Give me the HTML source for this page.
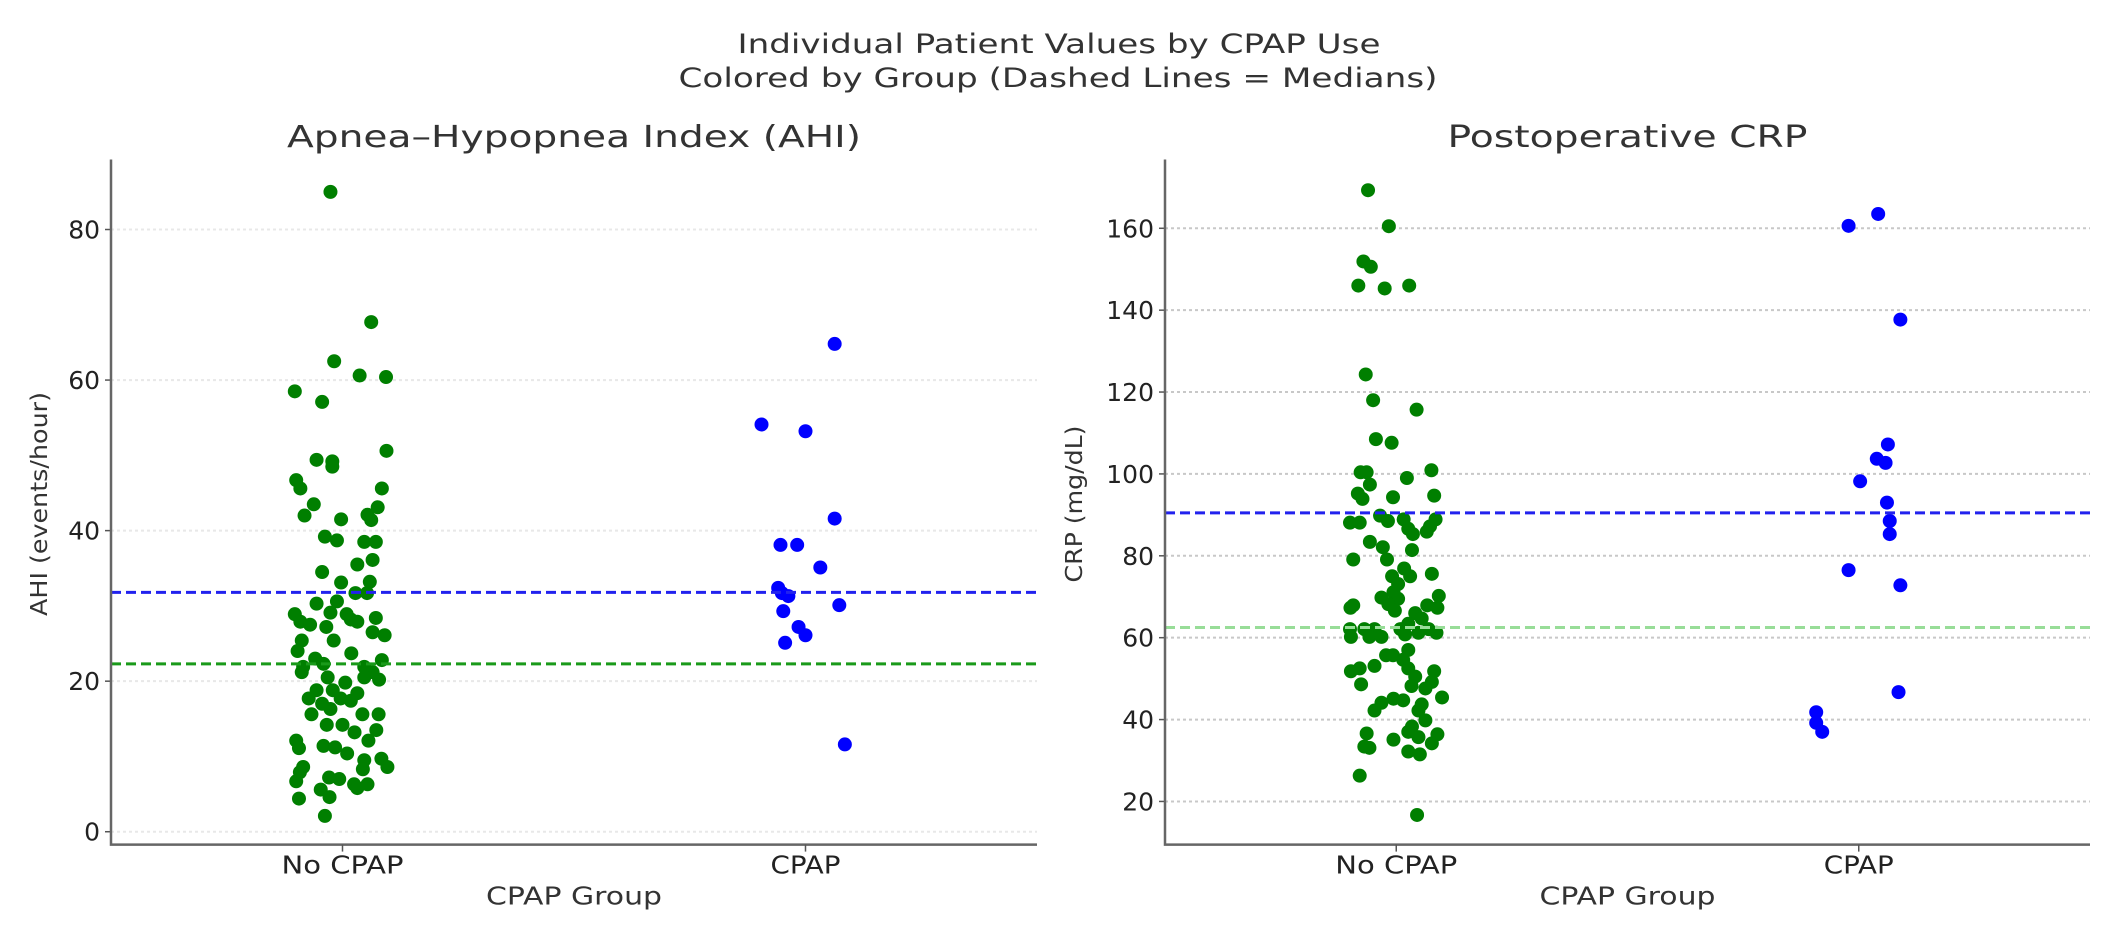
<!DOCTYPE html>
<html><head><meta charset="utf-8"><style>
html,body{margin:0;padding:0;background:#fff;}
svg{display:block;font-family:"DejaVu Sans","Liberation Sans",sans-serif;}
</style></head><body>
<svg id="chart" width="2117" height="926" viewBox="0 0 2117 926" xmlns="http://www.w3.org/2000/svg">
<rect width="2117" height="926" fill="#fff"/>
<text x="1059" y="53" text-anchor="middle" font-size="27" fill="#333" textLength="643" lengthAdjust="spacingAndGlyphs">Individual Patient Values by CPAP Use</text>
<text x="1058" y="87" text-anchor="middle" font-size="27" fill="#333" textLength="759" lengthAdjust="spacingAndGlyphs">Colored by Group (Dashed Lines = Medians)</text>
<g id="p1"></g>
<g id="p2"></g>
</svg>
<script>
const categories = ["No CPAP", "CPAP"];
// AHI panel data: [value, jitter]
const ahiNoCpap = [[85.0,-.026],[67.7,.062],[62.5,-.018],[60.6,.037],[60.4,.094],[58.5,-.103],[57.1,-.044],[50.6,.095],[49.4,-.056],[49.2,-.022],[48.5,-.022],[46.7,-.1],[45.6,-.091],[45.6,.085],[43.5,-.062],[43.1,.076],[42.0,-.082],[42.1,.054],[41.5,-.003],[41.4,.062],[39.2,-.038],[38.7,-.012],[38.5,.047],[38.5,.072],[35.5,.032],[36.1,.065],[34.5,-.044],[33.1,-.003],[33.2,.059],[31.7,.028],[31.7,.053],[30.6,-.012],[30.3,-.056],[28.9,-.103],[29.1,-.026],[28.9,.009],[28.4,.072],[27.9,-.091],[27.5,-.07],[28.2,.018],[27.2,-.035],[27.9,.032],[25.4,-.019],[25.4,-.088],[26.1,.091],[26.5,.065],[24.0,-.097],[23.7,.019],[23.0,-.059],[22.8,.085],[21.9,-.085],[22.3,-.041],[21.9,.047],[21.2,.065],[21.2,-.088],[20.5,-.032],[19.8,.006],[20.5,.047],[20.2,.079],[18.8,-.056],[18.8,-.021],[18.4,.032],[17.7,-.073],[17.7,-.004],[17.0,-.044],[17.4,.018],[15.6,-.067],[16.3,-.026],[15.6,.043],[15.6,.078],[14.2,-.034],[14.2,0],[13.5,.073],[13.2,.026],[12.1,-.1],[12.1,.056],[11.1,-.094],[11.4,-.041],[11.2,-.016],[10.4,.01],[9.5,.047],[9.7,.084],[8.6,-.085],[8.6,.097],[8.3,.044],[7.9,-.092],[7.2,-.029],[7.0,-.007],[6.7,-.1],[6.3,.025],[6.3,.054],[5.6,-.047],[5.8,.032],[4.4,-.094],[4.6,-.028],[2.1,-.038]];
const ahiCpap = [[54.1,-.095],[53.2,0],[64.8,.063],[41.6,.063],[38.1,-.054],[38.1,-.018],[35.1,.032],[32.4,-.059],[31.7,-.051],[31.3,-.037],[30.1,.073],[29.3,-.048],[27.2,-.015],[26.1,0],[25.1,-.044],[11.6,.085]];
const ahiMedians = [22.3, 31.8];
const ahiTicks = [0,20,40,60,80];
// CRP panel data
const crpNoCpap = [[169.3,-.061],[160.5,-.016],[151.9,-.071],[150.6,-.055],[146.0,-.082],[145.3,-.025],[146.0,.028],[124.3,-.066],[118.0,-.05],[115.7,.044],[108.5,-.044],[107.6,-.01],[100.4,-.077],[100.4,-.064],[100.9,.076],[99.0,.023],[97.4,-.057],[95.2,-.083],[93.9,-.073],[94.3,-.007],[94.7,.082],[89.8,-.035],[88.5,-.018],[88.1,-.1],[88.1,-.079],[88.9,.016],[88.9,.085],[87.2,.073],[86.6,.026],[85.9,.066],[85.3,.036],[83.4,-.057],[82.1,-.029],[81.4,.034],[79.1,-.093],[79.1,-.02],[76.9,.017],[75.6,.077],[75.0,-.009],[75.0,.03],[73.1,.004],[71.1,-.006],[69.5,.004],[70.2,.092],[69.8,-.032],[68.2,-.017],[67.9,-.093],[67.9,.067],[67.3,-.099],[67.3,.089],[66.6,-.003],[66.0,.041],[64.7,.055],[63.4,.026],[62.1,-.1],[62.1,-.069],[62.1,-.047],[62.1,.009],[62.1,.07],[60.2,-.098],[60.2,-.058],[60.2,-.032],[60.8,.019],[61.2,.048],[61.2,.087],[57.0,.026],[55.7,-.022],[55.7,-.007],[54.6,.015],[53.1,-.047],[52.5,.026],[51.8,-.098],[52.5,-.079],[51.8,.082],[50.5,.041],[49.2,.077],[48.6,-.076],[48.2,.033],[47.6,.063],[45.4,.099],[45.1,-.006],[44.7,.015],[44.1,-.032],[43.7,.055],[42.2,.048],[42.2,-.047],[39.8,.063],[38.3,.034],[37.0,.026],[35.7,.048],[36.4,.089],[36.6,-.064],[35.1,-.006],[34.2,.077],[33.1,-.058],[33.4,-.069],[32.2,.026],[31.5,.051],[26.3,-.079],[16.7,.045]];
const crpCpap = [[160.6,-.022],[163.5,.042],[137.7,.09],[107.2,.063],[103.7,.039],[102.7,.058],[98.2,.003],[93.0,.061],[88.5,.067],[85.3,.067],[76.5,-.022],[72.8,.09],[46.7,.086],[41.8,-.092],[39.2,-.092],[37.0,-.079]];
const crpMedians = [62.5, 90.5];
const crpTicks = [20,40,60,80,100,120,140,160];

const NS="http://www.w3.org/2000/svg";
function mk(parent, tag, attrs){const e=document.createElementNS(NS,tag);for(const k in attrs)e.setAttribute(k,attrs[k]);parent.appendChild(e);return e;}

function panel(g, cfg){
  const {x0,x1,y0,y1,ymin,ymax,title,titleW,ylabel,ylabelW,ylabelX,ticks,noc,cp,med,medColors,gridColor}=cfg;
  const X=v=>x0+(v+0.5)/2*(x1-x0);
  const Y=v=>y1-(v-ymin)/(ymax-ymin)*(y1-y0);
  ticks.forEach(t=>{
    const l=mk(g,'line',{x1:x0,x2:x1,y1:Y(t),y2:Y(t),stroke:gridColor,'stroke-width':2,'stroke-dasharray':'3,3'});
    
    
    const tk=mk(g,'line',{x1:x0-6,x2:x0,y1:Y(t),y2:Y(t),stroke:'#555','stroke-width':1.5});
    
    
    const tx=mk(g,'text',{x:x0-11,y:Y(t)+9,'text-anchor':'end','font-size':25,fill:'#222'});
    tx.textContent=t;
    
    
  });
  const drawPts=(arr,ci,color,nm)=>arr.forEach(p=>{
    const c=mk(g,'circle',{cx:X(ci+p[1]),cy:Y(p[0]),r:7,fill:color});
    
    
  });
  drawPts(noc,0,'#007f00','point-no-cpap');
  drawPts(cp,1,'#0000ff','point-cpap');
  med.forEach((m,i)=>{
    const l=mk(g,'line',{x1:x0,x2:x1,y1:Y(m),y2:Y(m),stroke:medColors[i],'stroke-width':3,'stroke-dasharray':'10,5'});
    
    
  });
  const sp=mk(g,'path',{d:`M${x0},${y0}V${y1}H${x1}`,fill:'none',stroke:'#666','stroke-width':2.5});
  
  
  categories.forEach((c,i)=>{
    const tk=mk(g,'line',{x1:X(i),x2:X(i),y1:y1,y2:y1+7,stroke:'#555','stroke-width':1.5});
    
    
    const t=mk(g,'text',{x:X(i),y:y1+29,'text-anchor':'middle','font-size':25,fill:'#222',textLength:(i===0?122:70),lengthAdjust:'spacingAndGlyphs'});
    t.textContent=c;
    
    
  });
  const xt=mk(g,'text',{x:(x0+x1)/2,y:y1+60,'text-anchor':'middle','font-size':25,fill:'#333',textLength:176,lengthAdjust:'spacingAndGlyphs'});
  xt.textContent='CPAP Group';
  
  
  const yt=mk(g,'text',{x:0,y:0,'text-anchor':'middle','font-size':23,fill:'#333',textLength:ylabelW,lengthAdjust:'spacingAndGlyphs',transform:`translate(${ylabelX},504) rotate(-90)`});
  yt.textContent=ylabel;
  
  
  const tt=mk(g,'text',{x:(x0+x1)/2,y:147,'text-anchor':'middle','font-size':30,fill:'#333',textLength:titleW,lengthAdjust:'spacingAndGlyphs'});
  tt.textContent=title;
  
  
}
panel(document.getElementById('p1'),{x0:111,x1:1037,y0:159.5,y1:844.6,ymin:-1.71,ymax:89.3,title:'Apnea\u2013Hypopnea Index (AHI)',titleW:574,ylabel:'AHI (events/hour)',ylabelW:224,ylabelX:47,ticks:ahiTicks,noc:ahiNoCpap,cp:ahiCpap,med:ahiMedians,medColors:['#1a9a1a','#2222ee'],gridColor:'#e8e8e8'});
panel(document.getElementById('p2'),{x0:1165,x1:2090,y0:159.5,y1:844.6,ymin:9.46,ymax:176.8,title:'Postoperative CRP',titleW:360,ylabel:'CRP (mg/dL)',ylabelW:157,ylabelX:1082,ticks:crpTicks,noc:crpNoCpap,cp:crpCpap,med:crpMedians,medColors:['#98dd98','#2222ee'],gridColor:'#c8c8c8'});
</script>
</body></html>
